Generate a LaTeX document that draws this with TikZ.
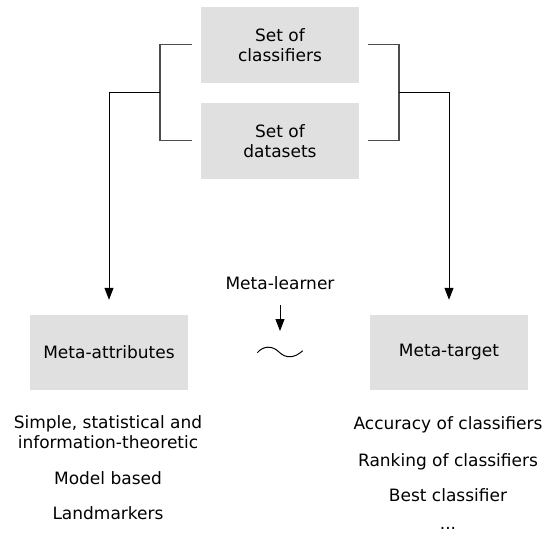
\documentclass[tikz,border=0pt]{standalone}
\usepackage{fontspec}
\setmainfont{DejaVu Sans}
\usetikzlibrary{arrows.meta}
\definecolor{BoxClr}{rgb}{0.88,0.88,0.88}
\definecolor{LineClr}{rgb}{0.3,0.3,0.3}

\begin{document}
\begin{tikzpicture}[x=1pt,y=-1pt,
  every node/.style={font=\fontsize{17}{20}\selectfont,inner sep=0pt},
  grybox/.style={fill=BoxClr,minimum width=158pt,align=center},
  arr/.style={line width=1pt,-{Triangle[length=12pt,width=9pt]}},
  brk/.style={line width=1.3pt,color=LineClr}]
\useasboundingbox (0,0) rectangle (546,533);

\node[grybox,minimum height=76pt] (cls) at (280,44.7) {Set of\\classifiers};
\node[grybox,minimum height=76pt] (dat) at (280,140.7) {Set of\\datasets};
\node[grybox,minimum height=75pt] (attr) at (109,352.5) {Meta-attributes};
\node[grybox,minimum height=75pt] (tgt) at (449,352.5) {Meta-target};
\node[anchor=base] (lrn) at (280,289) {Meta-learner};

\coordinate (lj) at (160,92.7);
\coordinate (rj) at (399,92.7);
\coordinate (wv) at (280,352.5);

\draw[brk] ([xshift=-9pt]cls.west) -| (lj) |- ([xshift=-9pt]dat.west);
\draw[brk] ([xshift=9pt]cls.east) -| (rj) |- ([xshift=9pt]dat.east);
\draw[arr] (lj) -| ([yshift=15pt]attr.north);
\draw[arr] (rj) -| ([yshift=15pt]tgt.north);
\draw[arr] ([yshift=-16pt]lrn.base) -- ([yshift=21.5pt]wv);
\draw[line width=1pt] (257.3,352.7) .. controls (263,346) and (272,345) .. (279,352)
  .. controls (286,359) and (295,358) .. (302.7,350.7);

\node[align=center] (sim) at (108,432) {Simple, statistical and\\information-theoretic};
\node[anchor=base] (mod) at (108,484) {Model based};
\node[anchor=base] (lnd) at (108,519) {Landmarkers};
\node[anchor=base] (acc) at (448,429) {Accuracy of classifiers};
\node[anchor=base] (rnk) at (448,466) {Ranking of classifiers};
\node[anchor=base] (bst) at (448,501) {Best classifier};
\node[anchor=base] (etc) at (448,529) {...};
\end{tikzpicture}
\end{document}
